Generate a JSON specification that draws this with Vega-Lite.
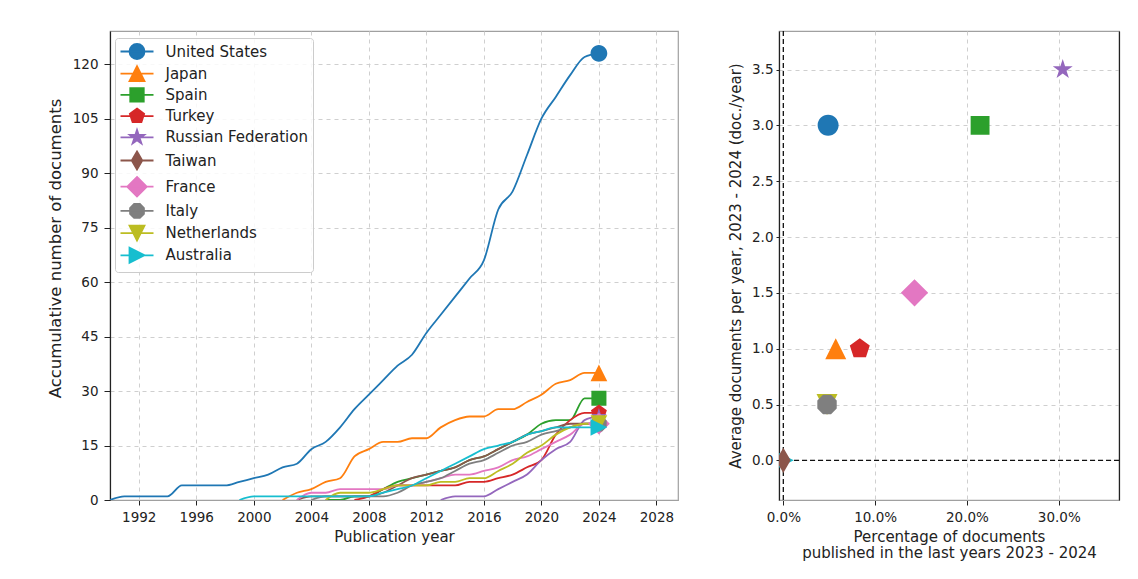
{
  "$schema": "https://vega.github.io/schema/vega-lite/v6.json",
  "background": "white",
  "padding": {"left": 46, "top": 29, "right": 5, "bottom": 5},
  "config": {
    "font": "DejaVu Sans",
    "view": {"stroke": "#a0a0a0", "strokeWidth": 1.2},
    "axis": {
      "labelFont": "DejaVu Sans", "labelFontSize": 13.5, "labelColor": "#222222",
      "titleFont": "DejaVu Sans", "titleFontSize": 15, "titleFontWeight": "normal", "titleColor": "#222222",
      "tickColor": "#222222", "tickSize": 5, "labelPadding": 5, "titlePadding": 6,
      "gridColor": "#cfcfcf", "gridDash": [4, 4], "gridWidth": 1, "domainColor": "#a0a0a0", "domainWidth": 1.2
    }
  },
  "datasets": {
    "series": [
      {"country": "United States", "year": 1990, "docs": 0}, {"country": "United States", "year": 1991, "docs": 1}, {"country": "United States", "year": 1992, "docs": 1}, {"country": "United States", "year": 1993, "docs": 1}, {"country": "United States", "year": 1994, "docs": 1}, {"country": "United States", "year": 1995, "docs": 4}, {"country": "United States", "year": 1996, "docs": 4}, {"country": "United States", "year": 1997, "docs": 4}, {"country": "United States", "year": 1998, "docs": 4}, {"country": "United States", "year": 1999, "docs": 5}, {"country": "United States", "year": 2000, "docs": 6}, {"country": "United States", "year": 2001, "docs": 7}, {"country": "United States", "year": 2002, "docs": 9}, {"country": "United States", "year": 2003, "docs": 10}, {"country": "United States", "year": 2004, "docs": 14}, {"country": "United States", "year": 2005, "docs": 16}, {"country": "United States", "year": 2006, "docs": 20}, {"country": "United States", "year": 2007, "docs": 25}, {"country": "United States", "year": 2008, "docs": 29}, {"country": "United States", "year": 2009, "docs": 33}, {"country": "United States", "year": 2010, "docs": 37}, {"country": "United States", "year": 2011, "docs": 40}, {"country": "United States", "year": 2012, "docs": 46}, {"country": "United States", "year": 2013, "docs": 51}, {"country": "United States", "year": 2014, "docs": 56}, {"country": "United States", "year": 2015, "docs": 61}, {"country": "United States", "year": 2016, "docs": 66}, {"country": "United States", "year": 2017, "docs": 80}, {"country": "United States", "year": 2018, "docs": 85}, {"country": "United States", "year": 2019, "docs": 95}, {"country": "United States", "year": 2020, "docs": 105}, {"country": "United States", "year": 2021, "docs": 111}, {"country": "United States", "year": 2022, "docs": 117}, {"country": "United States", "year": 2023, "docs": 122}, {"country": "United States", "year": 2024, "docs": 123},
      {"country": "Japan", "year": 2002, "docs": 0}, {"country": "Japan", "year": 2003, "docs": 2}, {"country": "Japan", "year": 2004, "docs": 3}, {"country": "Japan", "year": 2005, "docs": 5}, {"country": "Japan", "year": 2006, "docs": 6}, {"country": "Japan", "year": 2007, "docs": 12}, {"country": "Japan", "year": 2008, "docs": 14}, {"country": "Japan", "year": 2009, "docs": 16}, {"country": "Japan", "year": 2010, "docs": 16}, {"country": "Japan", "year": 2011, "docs": 17}, {"country": "Japan", "year": 2012, "docs": 17}, {"country": "Japan", "year": 2013, "docs": 20}, {"country": "Japan", "year": 2014, "docs": 22}, {"country": "Japan", "year": 2015, "docs": 23}, {"country": "Japan", "year": 2016, "docs": 23}, {"country": "Japan", "year": 2017, "docs": 25}, {"country": "Japan", "year": 2018, "docs": 25}, {"country": "Japan", "year": 2019, "docs": 27}, {"country": "Japan", "year": 2020, "docs": 29}, {"country": "Japan", "year": 2021, "docs": 32}, {"country": "Japan", "year": 2022, "docs": 33}, {"country": "Japan", "year": 2023, "docs": 35}, {"country": "Japan", "year": 2024, "docs": 35},
      {"country": "Spain", "year": 2005, "docs": 0}, {"country": "Spain", "year": 2006, "docs": 0}, {"country": "Spain", "year": 2007, "docs": 1}, {"country": "Spain", "year": 2008, "docs": 1}, {"country": "Spain", "year": 2009, "docs": 3}, {"country": "Spain", "year": 2010, "docs": 5}, {"country": "Spain", "year": 2011, "docs": 6}, {"country": "Spain", "year": 2012, "docs": 7}, {"country": "Spain", "year": 2013, "docs": 8}, {"country": "Spain", "year": 2014, "docs": 9}, {"country": "Spain", "year": 2015, "docs": 11}, {"country": "Spain", "year": 2016, "docs": 12}, {"country": "Spain", "year": 2017, "docs": 14}, {"country": "Spain", "year": 2018, "docs": 16}, {"country": "Spain", "year": 2019, "docs": 18}, {"country": "Spain", "year": 2020, "docs": 21}, {"country": "Spain", "year": 2021, "docs": 22}, {"country": "Spain", "year": 2022, "docs": 22}, {"country": "Spain", "year": 2023, "docs": 28}, {"country": "Spain", "year": 2024, "docs": 28},
      {"country": "Turkey", "year": 2007, "docs": 0}, {"country": "Turkey", "year": 2008, "docs": 1}, {"country": "Turkey", "year": 2009, "docs": 3}, {"country": "Turkey", "year": 2010, "docs": 4}, {"country": "Turkey", "year": 2011, "docs": 4}, {"country": "Turkey", "year": 2012, "docs": 4}, {"country": "Turkey", "year": 2013, "docs": 4}, {"country": "Turkey", "year": 2014, "docs": 4}, {"country": "Turkey", "year": 2015, "docs": 5}, {"country": "Turkey", "year": 2016, "docs": 5}, {"country": "Turkey", "year": 2017, "docs": 6}, {"country": "Turkey", "year": 2018, "docs": 7}, {"country": "Turkey", "year": 2019, "docs": 9}, {"country": "Turkey", "year": 2020, "docs": 11}, {"country": "Turkey", "year": 2021, "docs": 18}, {"country": "Turkey", "year": 2022, "docs": 22}, {"country": "Turkey", "year": 2023, "docs": 24}, {"country": "Turkey", "year": 2024, "docs": 24},
      {"country": "Russian Federation", "year": 2013, "docs": 0}, {"country": "Russian Federation", "year": 2014, "docs": 1}, {"country": "Russian Federation", "year": 2015, "docs": 1}, {"country": "Russian Federation", "year": 2016, "docs": 1}, {"country": "Russian Federation", "year": 2017, "docs": 3}, {"country": "Russian Federation", "year": 2018, "docs": 5}, {"country": "Russian Federation", "year": 2019, "docs": 7}, {"country": "Russian Federation", "year": 2020, "docs": 11}, {"country": "Russian Federation", "year": 2021, "docs": 14}, {"country": "Russian Federation", "year": 2022, "docs": 16}, {"country": "Russian Federation", "year": 2023, "docs": 22}, {"country": "Russian Federation", "year": 2024, "docs": 23},
      {"country": "Taiwan", "year": 2003, "docs": 0}, {"country": "Taiwan", "year": 2004, "docs": 1}, {"country": "Taiwan", "year": 2005, "docs": 1}, {"country": "Taiwan", "year": 2006, "docs": 1}, {"country": "Taiwan", "year": 2007, "docs": 1}, {"country": "Taiwan", "year": 2008, "docs": 1}, {"country": "Taiwan", "year": 2009, "docs": 2}, {"country": "Taiwan", "year": 2010, "docs": 4}, {"country": "Taiwan", "year": 2011, "docs": 6}, {"country": "Taiwan", "year": 2012, "docs": 7}, {"country": "Taiwan", "year": 2013, "docs": 8}, {"country": "Taiwan", "year": 2014, "docs": 9}, {"country": "Taiwan", "year": 2015, "docs": 11}, {"country": "Taiwan", "year": 2016, "docs": 12}, {"country": "Taiwan", "year": 2017, "docs": 14}, {"country": "Taiwan", "year": 2018, "docs": 16}, {"country": "Taiwan", "year": 2019, "docs": 18}, {"country": "Taiwan", "year": 2020, "docs": 19}, {"country": "Taiwan", "year": 2021, "docs": 20}, {"country": "Taiwan", "year": 2022, "docs": 21}, {"country": "Taiwan", "year": 2023, "docs": 21}, {"country": "Taiwan", "year": 2024, "docs": 21},
      {"country": "France", "year": 2003, "docs": 0}, {"country": "France", "year": 2004, "docs": 2}, {"country": "France", "year": 2005, "docs": 2}, {"country": "France", "year": 2006, "docs": 3}, {"country": "France", "year": 2007, "docs": 3}, {"country": "France", "year": 2008, "docs": 3}, {"country": "France", "year": 2009, "docs": 3}, {"country": "France", "year": 2010, "docs": 4}, {"country": "France", "year": 2011, "docs": 4}, {"country": "France", "year": 2012, "docs": 5}, {"country": "France", "year": 2013, "docs": 6}, {"country": "France", "year": 2014, "docs": 7}, {"country": "France", "year": 2015, "docs": 7}, {"country": "France", "year": 2016, "docs": 8}, {"country": "France", "year": 2017, "docs": 9}, {"country": "France", "year": 2018, "docs": 11}, {"country": "France", "year": 2019, "docs": 12}, {"country": "France", "year": 2020, "docs": 14}, {"country": "France", "year": 2021, "docs": 16}, {"country": "France", "year": 2022, "docs": 18}, {"country": "France", "year": 2023, "docs": 21}, {"country": "France", "year": 2024, "docs": 21},
      {"country": "Italy", "year": 2004, "docs": 0}, {"country": "Italy", "year": 2005, "docs": 1}, {"country": "Italy", "year": 2006, "docs": 1}, {"country": "Italy", "year": 2007, "docs": 1}, {"country": "Italy", "year": 2008, "docs": 1}, {"country": "Italy", "year": 2009, "docs": 1}, {"country": "Italy", "year": 2010, "docs": 2}, {"country": "Italy", "year": 2011, "docs": 4}, {"country": "Italy", "year": 2012, "docs": 5}, {"country": "Italy", "year": 2013, "docs": 6}, {"country": "Italy", "year": 2014, "docs": 8}, {"country": "Italy", "year": 2015, "docs": 10}, {"country": "Italy", "year": 2016, "docs": 11}, {"country": "Italy", "year": 2017, "docs": 13}, {"country": "Italy", "year": 2018, "docs": 15}, {"country": "Italy", "year": 2019, "docs": 16}, {"country": "Italy", "year": 2020, "docs": 18}, {"country": "Italy", "year": 2021, "docs": 19}, {"country": "Italy", "year": 2022, "docs": 20}, {"country": "Italy", "year": 2023, "docs": 21}, {"country": "Italy", "year": 2024, "docs": 21},
      {"country": "Netherlands", "year": 2005, "docs": 0}, {"country": "Netherlands", "year": 2006, "docs": 2}, {"country": "Netherlands", "year": 2007, "docs": 2}, {"country": "Netherlands", "year": 2008, "docs": 2}, {"country": "Netherlands", "year": 2009, "docs": 3}, {"country": "Netherlands", "year": 2010, "docs": 4}, {"country": "Netherlands", "year": 2011, "docs": 4}, {"country": "Netherlands", "year": 2012, "docs": 4}, {"country": "Netherlands", "year": 2013, "docs": 5}, {"country": "Netherlands", "year": 2014, "docs": 5}, {"country": "Netherlands", "year": 2015, "docs": 6}, {"country": "Netherlands", "year": 2016, "docs": 6}, {"country": "Netherlands", "year": 2017, "docs": 8}, {"country": "Netherlands", "year": 2018, "docs": 10}, {"country": "Netherlands", "year": 2019, "docs": 13}, {"country": "Netherlands", "year": 2020, "docs": 15}, {"country": "Netherlands", "year": 2021, "docs": 18}, {"country": "Netherlands", "year": 2022, "docs": 20}, {"country": "Netherlands", "year": 2023, "docs": 21}, {"country": "Netherlands", "year": 2024, "docs": 21},
      {"country": "Australia", "year": 1999, "docs": 0}, {"country": "Australia", "year": 2000, "docs": 1}, {"country": "Australia", "year": 2001, "docs": 1}, {"country": "Australia", "year": 2002, "docs": 1}, {"country": "Australia", "year": 2003, "docs": 1}, {"country": "Australia", "year": 2004, "docs": 1}, {"country": "Australia", "year": 2005, "docs": 1}, {"country": "Australia", "year": 2006, "docs": 1}, {"country": "Australia", "year": 2007, "docs": 1}, {"country": "Australia", "year": 2008, "docs": 1}, {"country": "Australia", "year": 2009, "docs": 2}, {"country": "Australia", "year": 2010, "docs": 3}, {"country": "Australia", "year": 2011, "docs": 4}, {"country": "Australia", "year": 2012, "docs": 6}, {"country": "Australia", "year": 2013, "docs": 8}, {"country": "Australia", "year": 2014, "docs": 10}, {"country": "Australia", "year": 2015, "docs": 12}, {"country": "Australia", "year": 2016, "docs": 14}, {"country": "Australia", "year": 2017, "docs": 15}, {"country": "Australia", "year": 2018, "docs": 16}, {"country": "Australia", "year": 2019, "docs": 18}, {"country": "Australia", "year": 2020, "docs": 19}, {"country": "Australia", "year": 2021, "docs": 20}, {"country": "Australia", "year": 2022, "docs": 20}, {"country": "Australia", "year": 2023, "docs": 20}, {"country": "Australia", "year": 2024, "docs": 20}
    ],
    "recent": [
      {"country": "Australia", "pct": 0.0, "avg": 0.0},
      {"country": "Netherlands", "pct": 0.0476, "avg": 0.5},
      {"country": "Italy", "pct": 0.0476, "avg": 0.5},
      {"country": "France", "pct": 0.1429, "avg": 1.5},
      {"country": "Taiwan", "pct": 0.0, "avg": 0.0},
      {"country": "Russian Federation", "pct": 0.3043, "avg": 3.5},
      {"country": "Turkey", "pct": 0.0833, "avg": 1.0},
      {"country": "Spain", "pct": 0.2143, "avg": 3.0},
      {"country": "Japan", "pct": 0.0571, "avg": 1.0},
      {"country": "United States", "pct": 0.0488, "avg": 3.0}
    ],
    "zero": [{"v": 0}]
  },
  "spacing": 101,
  "bounds": "flush",
  "resolve": {"legend": {"color": "independent", "shape": "independent"}},
  "hconcat": [
    {
      "width": 568,
      "height": 469,
      "data": {"name": "series"},
      "layer": [
        {
          "mark": {"type": "line", "strokeWidth": 1.8, "interpolate": "monotone", "clip": true},
          "encoding": {
            "x": {"field": "year", "type": "quantitative", "scale": {"domain": [1990, 2029.5], "nice": false, "zero": false},
                  "axis": {"values": [1992, 1996, 2000, 2004, 2008, 2012, 2016, 2020, 2024, 2028], "format": "d", "title": "Publication year", "grid": true}},
            "y": {"field": "docs", "type": "quantitative", "scale": {"domain": [0, 129.15], "nice": false},
                  "axis": {"values": [0, 15, 30, 45, 60, 75, 90, 105, 120], "title": "Accumulative number of documents", "titleFontSize": 16.5, "titleY": 217, "domainColor": "#222222", "tickSize": 6, "labelPadding": 6, "titlePadding": 9}},
            "stroke": {"field": "country", "type": "nominal",
                      "scale": {"domain": ["United States", "Japan", "Spain", "Turkey", "Russian Federation", "Taiwan", "France", "Italy", "Netherlands", "Australia"],
                                "range": ["#1f77b4", "#ff7f0e", "#2ca02c", "#d62728", "#9467bd", "#8c564b", "#e377c2", "#7f7f7f", "#bcbd22", "#17becf"]},
                      "legend": null}
          }
        },
        {
          "transform": [{"filter": "datum.year == 2024"}],
          "mark": {"type": "point", "filled": true, "opacity": 1, "size": 280},
          "encoding": {
            "x": {"field": "year", "type": "quantitative"},
            "y": {"field": "docs", "type": "quantitative"},
            "color": {"field": "country", "type": "nominal",
                      "scale": {"domain": ["United States", "Japan", "Spain", "Turkey", "Russian Federation", "Taiwan", "France", "Italy", "Netherlands", "Australia"],
                                "range": ["#1f77b4", "#ff7f0e", "#2ca02c", "#d62728", "#9467bd", "#8c564b", "#e377c2", "#7f7f7f", "#bcbd22", "#17becf"]},
                      "legend": {"orient": "none", "legendX": 5, "legendY": 7, "title": null, "labelFontSize": 15, "labelFont": "DejaVu Sans", "labelColor": "#222222", "symbolSize": 225, "symbolOffset": 8.5, "labelOffset": 20, "rowPadding": -0.8, "padding": 5, "strokeColor": "#cccccc", "fillColor": "rgba(255,255,255,0.85)", "cornerRadius": 3, "symbolOpacity": 1, "symbolStrokeWidth": 1.8,
                                 "encode": {"symbols": {"update": {"stroke": {"scale": "color", "field": "value"}}}}}},
            "shape": {"field": "country", "type": "nominal",
                      "scale": {"domain": ["United States", "Japan", "Spain", "Turkey", "Russian Federation", "Taiwan", "France", "Italy", "Netherlands", "Australia"],
                                "range": [
                                  "M-2.2,0L2.2,0M1,0A1,1,0,1,1,-1,0A1,1,0,1,1,1,0Z",
                                  "M-2.2,0L2.2,0M0,-1L1,1L-1,1Z",
                                  "M-2.2,0L2.2,0M-0.9,-0.9L0.9,-0.9L0.9,0.9L-0.9,0.9Z",
                                  "M-2.2,0L2.2,0M0,-1L0.951,-0.309L0.588,0.809L-0.588,0.809L-0.951,-0.309Z",
                                  "M-2.2,0L2.2,0M0,-1L0.225,-0.309L0.951,-0.309L0.363,0.118L0.588,0.809L0,0.382L-0.588,0.809L-0.363,0.118L-0.951,-0.309L-0.225,-0.309Z",
                                  "M-2.2,0L2.2,0M0,-1.2L0.7,0L0,1.2L-0.7,0Z",
                                  "M-2.2,0L2.2,0M0,-1.3L1.3,0L0,1.3L-1.3,0Z",
                                  "M-2.2,0L2.2,0M0.383,-0.924L0.924,-0.383L0.924,0.383L0.383,0.924L-0.383,0.924L-0.924,0.383L-0.924,-0.383L-0.383,-0.924Z",
                                  "M-2.2,0L2.2,0M-1,-1L1,-1L0,1Z",
                                  "M-2.2,0L2.2,0M1,0L-1,1L-1,-1Z"
                                ]},
                      "legend": {"orient": "none", "legendX": 5, "legendY": 7, "title": null, "labelFontSize": 15, "labelFont": "DejaVu Sans", "labelColor": "#222222", "symbolSize": 225, "symbolOffset": 8.5, "labelOffset": 20, "rowPadding": -0.8, "padding": 5, "strokeColor": "#cccccc", "fillColor": "rgba(255,255,255,0.85)", "cornerRadius": 3, "symbolOpacity": 1, "symbolStrokeWidth": 1.8,
                                 "encode": {"symbols": {"update": {"stroke": {"scale": "color", "field": "value"}}}}}}
          }
        }
      ]
    },
    {
      "width": 340,
      "height": 469,
      "layer": [
        {
          "data": {"name": "zero"},
          "mark": {"type": "rule", "color": "#111111", "strokeWidth": 1.3, "strokeDash": [5, 3]},
          "encoding": {"x": {"field": "v", "type": "quantitative"}}
        },
        {
          "data": {"name": "zero"},
          "mark": {"type": "rule", "color": "#111111", "strokeWidth": 1.3, "strokeDash": [5, 3]},
          "encoding": {"y": {"field": "v", "type": "quantitative",
                             "axis": {"orient": "right", "labels": false, "ticks": false, "grid": false, "title": null, "domainColor": "#222222"}}}
        },
        {
          "data": {"name": "recent"},
          "mark": {"type": "point", "filled": true, "opacity": 1, "size": 440, "clip": true},
          "encoding": {
            "x": {"field": "pct", "type": "quantitative", "scale": {"domain": [-0.0047, 0.3656], "nice": false, "zero": false},
                  "axis": {"values": [0, 0.1, 0.2, 0.3], "format": ".1%", "title": ["Percentage of documents", "published in the last years 2023 - 2024"], "titleLineHeight": 16, "grid": true}},
            "y": {"field": "avg", "type": "quantitative", "scale": {"domain": [-0.355, 3.845], "nice": false, "zero": false},
                  "axis": {"values": [0, 0.5, 1, 1.5, 2, 2.5, 3, 3.5], "format": ".1f", "title": "Average documents per year, 2023 - 2024 (doc./year)", "domainColor": "#222222", "tickSize": 3, "labelPadding": 3, "titlePadding": 8, "grid": true}},
            "color": {"field": "country", "type": "nominal", "legend": null},
            "shape": {"field": "country", "type": "nominal", "legend": null}
          }
        }
      ],
      "resolve": {"axis": {"y": "independent"}}
    }
  ]
}
